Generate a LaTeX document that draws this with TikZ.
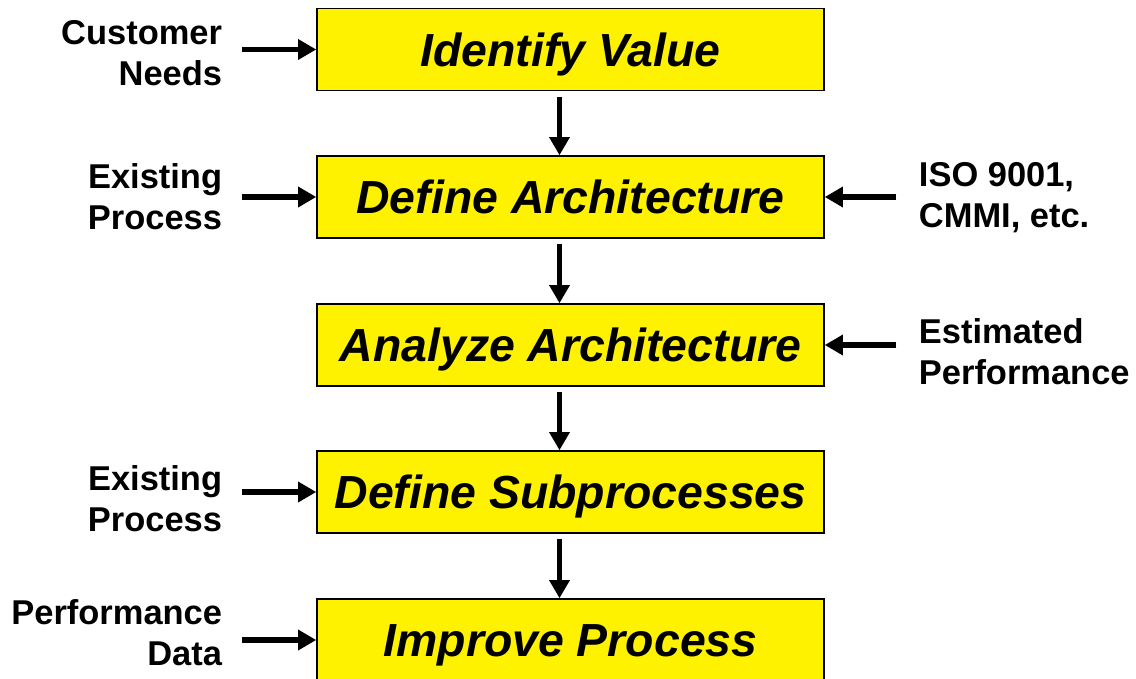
\documentclass[tikz,border=0pt]{standalone}
\usepackage{fontspec}
\setmainfont{Liberation Sans}
\usetikzlibrary{arrows.meta}
\begin{document}
\begin{tikzpicture}[x=0.025cm, y=-0.025cm, line width=4.2pt, >={Triangle[length=13pt,width=14pt]},
  step node/.style={rectangle, draw, line width=1pt, fill=yellow, minimum width=507*0.025cm, minimum height=82*0.025cm, inner sep=0pt, text height=23.5pt, text depth=0pt, font=\fontsize{33}{38}\selectfont\bfseries\itshape},
  in node/.style={anchor=east, align=right, inner sep=0pt, font=\fontsize{24.5}{29}\selectfont\bfseries},
  out node/.style={anchor=west, align=left, inner sep=0pt, font=\fontsize{24.5}{29}\selectfont\bfseries}]
\useasboundingbox (0,0) rectangle (1136,678);

% process steps
\node [step node](v1) at (570.5,49.5) {Identify Value};
\node [step node](v2) at (570.5,197) {Define Architecture};
\node [step node](v3) at (570.5,345) {Analyze Architecture};
\node [step node](v4) at (570.5,492) {Define Subprocesses};
\node [step node](v5) at (570.5,640) {Improve Process};

% inputs
\node [in node](l1) at (225,53) {Customer\\Needs};
\node [in node](l2) at (225,197) {Existing\\Process};
\node [in node](l4) at (225,499) {Existing\\Process};
\node [in node](l5) at (225,633) {Performance\\Data};
\node [out node](r2) at (916,198) {ISO 9001,\\CMMI, etc.};
\node [out node](r3) at (916,352) {Estimated\\Performance};

\draw [->, shorten <=4pt] ([xshift=-11*0.025cm]v1.south) -- ([xshift=-11*0.025cm]v2.north);
\draw [->, shorten <=4pt] ([xshift=-11*0.025cm]v2.south) -- ([xshift=-11*0.025cm]v3.north);
\draw [->, shorten <=4pt] ([xshift=-11*0.025cm]v3.south) -- ([xshift=-11*0.025cm]v4.north);
\draw [->, shorten <=4pt] ([xshift=-11*0.025cm]v4.south) -- ([xshift=-11*0.025cm]v5.north);

\draw [->, shorten <=12pt] (l1.east |- v1) -- (v1);
\draw [->, shorten <=12pt] (l2.east |- v2) -- (v2);
\draw [->, shorten <=12pt] (l4.east |- v4) -- (v4);
\draw [->, shorten <=12pt] (l5.east |- v5) -- (v5);
\draw [->, shorten <=14pt] (r2.west |- v2) -- (v2);
\draw [->, shorten <=14pt] (r3.west |- v3) -- (v3);
\end{tikzpicture}
\end{document}
